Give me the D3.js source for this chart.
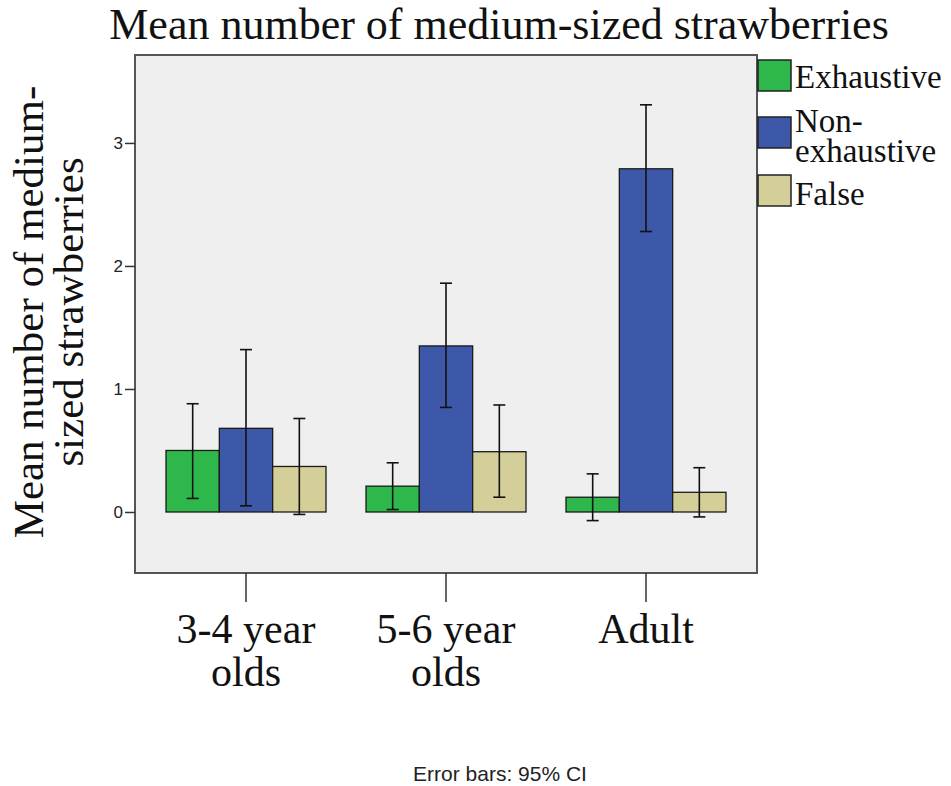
<!DOCTYPE html>
<html><head><meta charset="utf-8">
<script src="https://cdn.jsdelivr.net/npm/d3@7"></script>
<style>body{margin:0;background:#fff}svg{display:block}.serif{font-family:'Liberation Serif','Times New Roman',serif}</style>
</head><body>
<script>
const categories = ["3-4 year olds", "5-6 year olds", "Adult"];
const categoryLines = [["3-4 year", "olds"], ["5-6 year", "olds"], ["Adult"]];
const series = ["Exhaustive", "Non-exhaustive", "False"];
const legendLines = [["Exhaustive"], ["Non-", "exhaustive"], ["False"]];
const colors = ["#2eb84b", "#3d58a8", "#d4cf98"];
const means = {
  "Exhaustive": [0.50, 0.21, 0.12],
  "Non-exhaustive": [0.68, 1.35, 2.79],
  "False": [0.37, 0.49, 0.16]
};
const lower = {
  "Exhaustive": [0.11, 0.02, -0.07],
  "Non-exhaustive": [0.05, 0.85, 2.28],
  "False": [-0.02, 0.12, -0.04]
};
const upper = {
  "Exhaustive": [0.88, 0.40, 0.31],
  "Non-exhaustive": [1.32, 1.86, 3.31],
  "False": [0.76, 0.87, 0.36]
};
const yTicks = [0, 1, 2, 3];

const W = 951, H = 786;
const L = 135, R = 757, T = 55, B = 573;
const svg = d3.select("body").append("svg").attr("width", W).attr("height", H);

const y = d3.scaleLinear().domain([-0.496, 3.715]).range([B, T]);
const x0 = d3.scaleBand().domain(categories).range([L, R]).paddingInner(0.2).paddingOuter(0.155);
const x1 = d3.scaleBand().domain(series).range([0, x0.bandwidth()]).padding(0);

svg.append("rect").attr("x", L).attr("y", T).attr("width", R - L).attr("height", B - T)
  .attr("fill", "#efefef");

const rows = [];
categories.forEach((c, i) => series.forEach((s, j) => rows.push({c, s, j, m: means[s][i], lo: lower[s][i], hi: upper[s][i]})));

const g = svg.append("g");
g.selectAll("rect.bar").data(rows).join("rect").attr("class", "bar")
  .attr("x", d => x0(d.c) + x1(d.s))
  .attr("width", x1.bandwidth())
  .attr("y", d => y(Math.max(0, d.m)))
  .attr("height", d => Math.abs(y(d.m) - y(0)))
  .attr("fill", d => colors[d.j])
  .attr("stroke", "#1a1a1a").attr("stroke-width", 1.3);

const eb = g.selectAll("g.eb").data(rows).join("g").attr("class", "eb")
  .attr("stroke", "#111").attr("stroke-width", 1.6);
const cx = d => x0(d.c) + x1(d.s) + x1.bandwidth() / 2;
eb.append("line").attr("x1", cx).attr("x2", cx).attr("y1", d => y(d.lo)).attr("y2", d => y(d.hi));
eb.append("line").attr("x1", d => cx(d) - 6).attr("x2", d => cx(d) + 6).attr("y1", d => y(d.hi)).attr("y2", d => y(d.hi));
eb.append("line").attr("x1", d => cx(d) - 6).attr("x2", d => cx(d) + 6).attr("y1", d => y(d.lo)).attr("y2", d => y(d.lo));

svg.append("rect").attr("x", L).attr("y", T).attr("width", R - L).attr("height", B - T)
  .attr("fill", "none").attr("stroke", "#555").attr("stroke-width", 2);

const yAxis = svg.append("g").attr("transform", `translate(${L},0)`)
  .call(d3.axisLeft(y).tickValues(yTicks).tickSize(10).tickSizeOuter(0).tickFormat(d3.format("d")));
yAxis.select(".domain").remove();
yAxis.selectAll(".tick line").attr("stroke", "#333").attr("stroke-width", 1.5);
yAxis.selectAll(".tick text").attr("font-family", "'Liberation Sans', Arial, sans-serif")
  .attr("font-size", 17).attr("fill", "#222").attr("x", -12);

const xAxis = svg.append("g").attr("transform", `translate(0,${B})`)
  .call(d3.axisBottom(x0).tickSize(29).tickSizeOuter(0).tickFormat(""));
xAxis.select(".domain").remove();
xAxis.selectAll(".tick line").attr("stroke", "#333").attr("stroke-width", 1.5);
categories.forEach((c, i) => {
  const t = svg.append("text").attr("class", "serif").attr("text-anchor", "middle")
    .attr("font-size", 42).attr("fill", "#111");
  categoryLines[i].forEach((ln, k) => t.append("tspan").attr("x", x0(c) + x0.bandwidth() / 2).attr("y", 643 + k * 43).text(ln));
});

svg.append("text").attr("class", "serif").attr("x", 499).attr("y", 39).attr("text-anchor", "middle")
  .attr("font-size", 44).attr("fill", "#111")
  .text("Mean number of medium-sized strawberries");

const yt = svg.append("text").attr("class", "serif").attr("transform", "translate(0,312) rotate(-90)").attr("text-anchor", "middle")
  .attr("font-size", 43).attr("fill", "#111");
yt.append("tspan").attr("x", 0).attr("y", 43).text("Mean number of medium-");
yt.append("tspan").attr("x", 0).attr("y", 83).text("sized strawberries");

const legTop = [60, 117, 175];
const leg = svg.append("g");
series.forEach((s, j) => {
  leg.append("rect").attr("x", 758).attr("y", legTop[j]).attr("width", 33).attr("height", 31)
    .attr("fill", colors[j]).attr("stroke", "#222").attr("stroke-width", 1.5);
});
const legBase = [[88], [132, 162], [205]];
series.forEach((s, j) => {
  const t = leg.append("text").attr("class", "serif").attr("font-size", 33).attr("fill", "#111");
  legendLines[j].forEach((ln, k) => t.append("tspan").attr("x", 795).attr("y", legBase[j][k]).text(ln));
});

svg.append("text").attr("x", 500).attr("y", 781).attr("text-anchor", "middle")
  .attr("font-family", "'Liberation Sans', Arial, sans-serif").attr("font-size", 21).attr("fill", "#222")
  .text("Error bars: 95% CI");
</script>
</body></html>
